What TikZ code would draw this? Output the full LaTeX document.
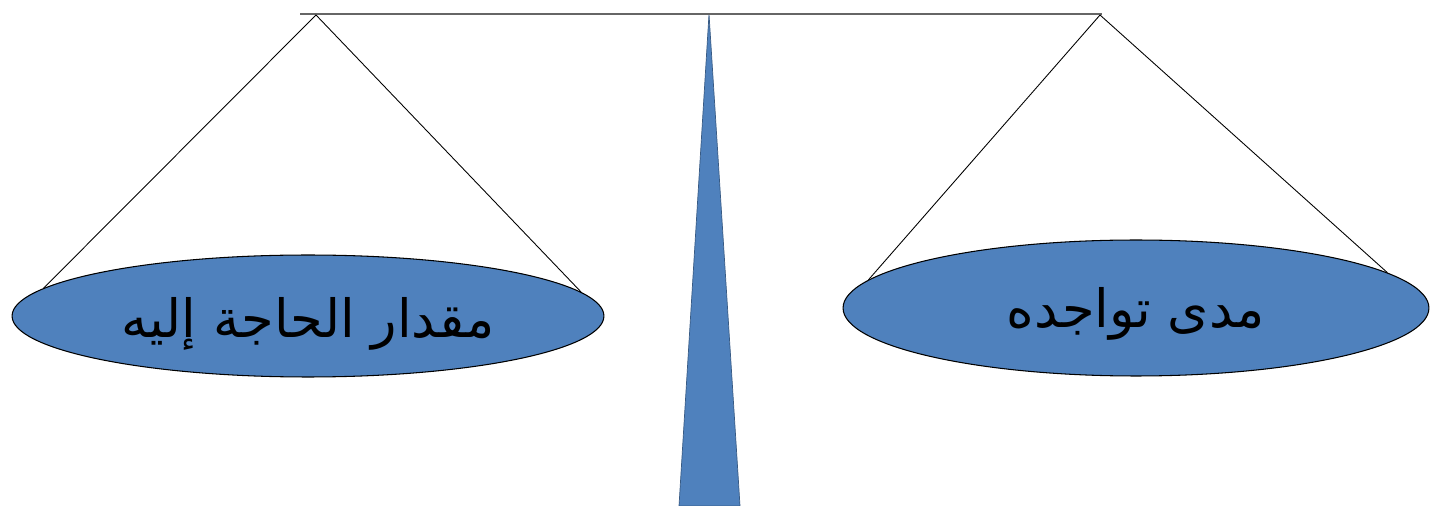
\documentclass[tikz,border=0pt]{standalone}
\usepackage{fontspec}
\usetikzlibrary{shapes.geometric}
\TeXXeTstate=1
\newfontfamily\arabicfont[Script=Arabic]{DejaVu Sans}
\definecolor{panblue}{RGB}{79,129,189}
\begin{document}
\begin{tikzpicture}[x=0.02cm,y=-0.02cm,
  pan/.style={ellipse,draw=black,line width=0.6pt,fill=panblue,inner sep=0pt},
  pantext/.style={font=\arabicfont\fontsize{30}{36}\selectfont,inner sep=0pt},
  cord/.style={draw=black,line width=0.5pt},
  beam/.style={draw=black!60,line width=1.1pt}]
\useasboundingbox (0,0) rectangle (1430,506);
\coordinate (bl) at (300,14);
\coordinate (br) at (1102,14);
\coordinate (al) at (316,15);
\coordinate (ar) at (1100,15);
\coordinate (top) at (709,14);
\coordinate (baseL) at (679,506);
\coordinate (baseR) at (740,506);
\fill[panblue,draw=panblue!70!black,line width=0.4pt] (top) -- (baseR) -- (baseL) -- cycle;
\draw[beam] (bl) -- (br);
\node[pan,minimum width=11.84cm,minimum height=2.44cm,
  label={[pantext,yshift=-0.16cm]center:\beginR مقدار الحاجة إليه\endR}] (lp) at (308,316) {};
\node[pan,minimum width=11.72cm,minimum height=2.72cm,
  label={[pantext,yshift=-0.12cm]center:\beginR مدى تواجده\endR}] (rp) at (1136,308) {};
\draw[cord] (al) -- (lp.174.5);
\draw[cord] (al) -- (lp.5.5);
\draw[cord] (ar) -- (rp.174.7);
\draw[cord] (ar) -- (rp.8);
\end{tikzpicture}
\end{document}
